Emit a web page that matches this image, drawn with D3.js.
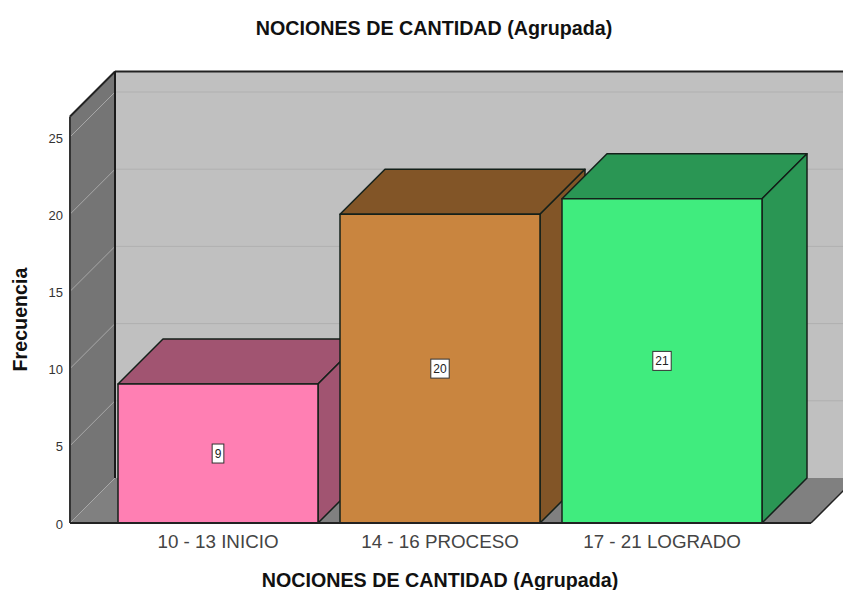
<!DOCTYPE html>
<html><head><meta charset="utf-8">
<script src="https://cdn.jsdelivr.net/npm/d3@7/dist/d3.min.js"></script>
<style>html,body{margin:0;padding:0;background:#fff}svg{display:block}text{font-family:"Liberation Sans",Arial,sans-serif}</style>
</head><body><div id="chart"></div>
<script>
const categories = ["10 - 13 INICIO","14 - 16 PROCESO","17 - 21 LOGRADO"];
const frequencies = [9,20,21];
const frontColors = ["#ff7fb3","#c9853f","#40ec7e"];
const topColors = ["#a15471","#825527","#2a9654"];
const sideColors = ["#a15471","#825527","#2a9654"];
const yTicks = [0,5,10,15,20,25];
const W=843,H=590,depth=45,yMax=26.33;
const floorY=523,topY=116.5,leftX=70,rightX=811;
const svg=d3.select("#chart").append("svg").attr("width",W).attr("height",H);
const y=d3.scaleLinear().domain([0,yMax]).range([floorY,topY]);
const x=d3.scaleBand().domain(categories).range([107,773]).paddingInner(22/222).paddingOuter(11/222);
const poly=(pts,fill,stroke,sw)=>svg.append("polygon").attr("points",pts.map(p=>p.join(",")).join(" "))
  .attr("fill",fill).attr("stroke",stroke||"none").attr("stroke-width",sw||0).attr("stroke-linejoin","round");
const line=(x1,y1,x2,y2,c,w)=>svg.append("line").attr("x1",x1).attr("y1",y1).attr("x2",x2).attr("y2",y2).attr("stroke",c).attr("stroke-width",w);
// walls
poly([[leftX+depth,topY-depth],[rightX+depth,topY-depth],[rightX+depth,floorY-depth],[leftX+depth,floorY-depth]],"#c0c0c0");
poly([[leftX,floorY],[leftX+depth,floorY-depth],[rightX+depth,floorY-depth],[rightX,floorY]],"#808080");
poly([[leftX,topY],[leftX+depth,topY-depth],[leftX+depth,floorY-depth],[leftX,floorY]],"#757575");
// gridlines
yTicks.forEach(t=>{
  const yy=y(t);
  line(leftX,yy,leftX+depth,yy-depth,"#a8a8a8",1);
  if(t>0) line(leftX+depth,yy-depth,rightX+depth,yy-depth,"#b0b0b0",1);
});
// frame
line(leftX+depth,topY-depth,W+10,topY-depth,"#222",2);
line(leftX,topY,leftX+depth,topY-depth,"#222",2);
line(leftX,topY,leftX,floorY,"#333",2);
line(leftX+depth,topY-depth,leftX+depth,floorY-depth,"#1a1a1a",2);
line(rightX,floorY,rightX+depth,floorY-depth,"#222",1.5);
// bars
categories.forEach((c,i)=>{
  const x0=x(c),x1=x0+x.bandwidth(),t=y(frequencies[i]),b=floorY;
  const s="#14201a";
  poly([[x0,t],[x0+depth,t-depth],[x1+depth,t-depth],[x1,t]],topColors[i],s,1.5);
  poly([[x1,t],[x1+depth,t-depth],[x1+depth,b-depth],[x1,b]],sideColors[i],s,1.5);
  poly([[x0,t],[x1,t],[x1,b],[x0,b]],frontColors[i],s,1.5);
});
line(leftX,floorY,rightX,floorY,"#222",2);
// value labels
categories.forEach((c,i)=>{
  const cx=x(c)+x.bandwidth()/2, cy=(y(frequencies[i])+floorY)/2;
  const lab=String(frequencies[i]);
  const tw=lab.length*6.7+5;
  svg.append("rect").attr("x",cx-tw/2).attr("y",cy-9.5).attr("width",tw).attr("height",19)
    .attr("fill","#fff").attr("stroke","#333").attr("stroke-width",1);
  svg.append("text").attr("x",cx).attr("y",cy+4.5).attr("text-anchor","middle").attr("font-size",12).attr("fill","#222").text(lab);
});
// y ticks
yTicks.forEach(t=>{
  svg.append("text").attr("x",63).attr("y",y(t)+5.5).attr("text-anchor","end").attr("font-size",13).attr("fill","#333").text(t);
});
// x tick labels
categories.forEach(c=>{
  svg.append("text").attr("x",x(c)+x.bandwidth()/2).attr("y",548).attr("text-anchor","middle").attr("font-size",18.8).attr("fill","#444").text(c);
});
// titles
const title="NOCIONES DE CANTIDAD (Agrupada)";
svg.append("text").attr("x",434).attr("y",35).attr("text-anchor","middle").attr("font-size",19.7).attr("font-weight","bold").attr("fill","#111").text(title);
svg.append("text").attr("x",440).attr("y",587).attr("text-anchor","middle").attr("font-size",19.7).attr("font-weight","bold").attr("fill","#111").text(title);
svg.append("text").attr("transform","translate(27,319.5) rotate(-90)").attr("text-anchor","middle").attr("font-size",19.7).attr("font-weight","bold").attr("fill","#111").text("Frecuencia");
</script></body></html>
